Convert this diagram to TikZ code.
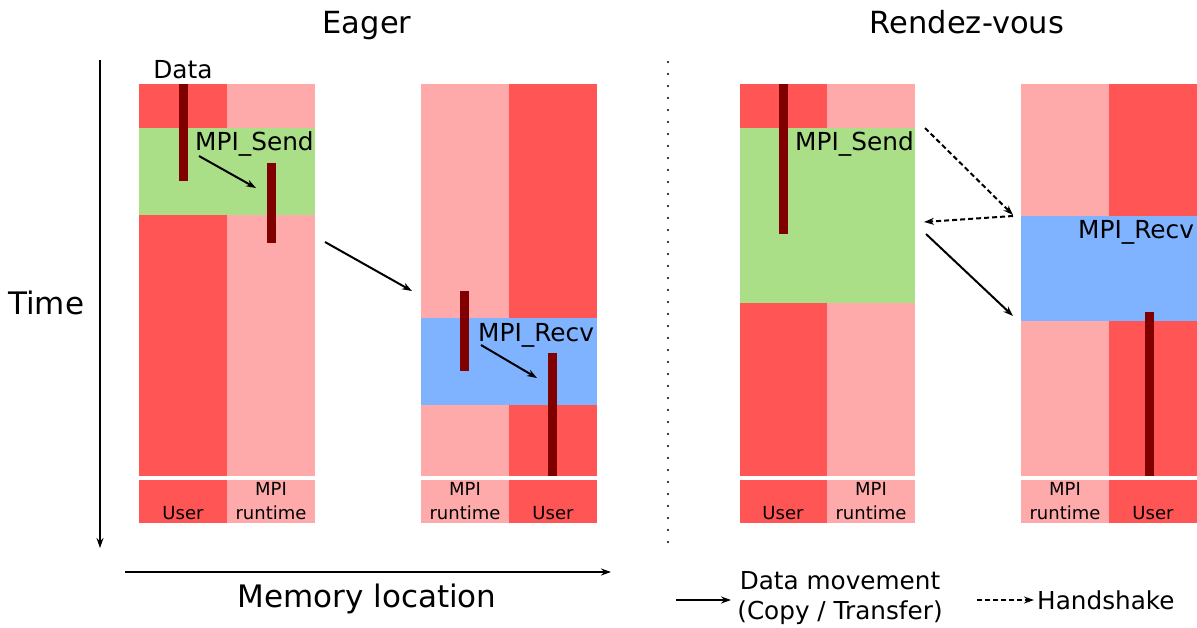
\documentclass[tikz,border=0pt]{standalone}
\usepackage{fontspec}
\setmainfont{DejaVu Sans}
\usetikzlibrary{arrows.meta}
\definecolor{ured}{HTML}{FF5555}
\definecolor{upink}{HTML}{FFAAAA}
\definecolor{ugreen}{HTML}{AADE87}
\definecolor{ublue}{HTML}{80B3FF}
\definecolor{ubar}{HTML}{800000}
\begin{document}
\begin{tikzpicture}[x=1pt,y=-1pt,
  move/.style={line width=2pt,-{Stealth[length=10pt,width=7pt]}},
  shake/.style={move,dash pattern=on 5pt off 3pt},
  axis/.style={line width=2pt,-{Stealth[length=10pt,width=7pt]}},
  txt/.style={inner sep=0pt,anchor=base},
  big/.style={txt,font=\fontsize{30.5}{36}\selectfont},
  axl/.style={txt,font=\fontsize{31}{37}\selectfont},
  mid/.style={txt,font=\fontsize{24.8}{29}\selectfont},
  leg/.style={txt,font=\fontsize{24.7}{29}\selectfont},
  small/.style={txt,font=\fontsize{18}{22}\selectfont},
  databar/.style={fill=ubar}]
\useasboundingbox (0,0) rectangle (1197,627);

% ---------- Eager sender ----------
\fill[ured] (139,84) rectangle (227,476);
\fill[upink] (227,84) rectangle (315,476);
\fill[ugreen] (139,128) rectangle (315,215);
\fill[ured] (139,480) rectangle (227,523);
\fill[upink] (227,480) rectangle (315,523);
\fill[databar] (179,84) rectangle (187.5,181);
\fill[databar] (267,163) rectangle (275.5,243);

% ---------- Eager receiver ----------
\fill[upink] (421,84) rectangle (509,476);
\fill[ured] (509,84) rectangle (597,476);
\fill[ublue] (421,318) rectangle (597,405);
\fill[upink] (421,480) rectangle (509,523);
\fill[ured] (509,480) rectangle (597,523);
\fill[databar] (460,291) rectangle (468.5,371);
\fill[databar] (548,353) rectangle (556.5,476);

% ---------- Rendez-vous sender ----------
\fill[ured] (740,84) rectangle (827,476);
\fill[upink] (827,84) rectangle (915,476);
\fill[ugreen] (740,128) rectangle (915,303);
\fill[ured] (740,480) rectangle (827,523);
\fill[upink] (827,480) rectangle (915,523);
\fill[databar] (779,84) rectangle (788,234);

% ---------- Rendez-vous receiver ----------
\fill[upink] (1021,84) rectangle (1109,476);
\fill[ured] (1109,84) rectangle (1197,476);
\fill[ublue] (1021,216) rectangle (1197,321);
\fill[upink] (1021,480) rectangle (1109,523);
\fill[ured] (1109,480) rectangle (1197,523);
\fill[databar] (1145,312) rectangle (1154,476);

% ---------- titles and labels ----------
\node[big] (teager) at (367,33) {Eager};
\node[big] (trdv) at (967,33) {Rendez-vous};
\node[axl,anchor=base west] (ttime) at (8,314) {Time};
\node[axl] (tmem) at (367,607) {Memory location};
\node[mid] (tdata) at (183,78) {Data};
\node[mid,anchor=base west] (tsend1) at (195,150) {MPI\_Send};
\node[mid,anchor=base west] (trecv1) at (478,341) {MPI\_Recv};
\node[mid,anchor=base west] (tsend2) at (795,150) {MPI\_Send};
\node[mid,anchor=base west] (trecv2) at (1078,238) {MPI\_Recv};

\node[small] (u1) at (183,519) {User};
\node[small] (m1a) at (271,495) {MPI};
\node[small] (m1b) at (271,519) {runtime};
\node[small] (m2a) at (465,495) {MPI};
\node[small] (m2b) at (465,519) {runtime};
\node[small] (u2) at (553,519) {User};
\node[small] (u3) at (783,519) {User};
\node[small] (m3a) at (871,495) {MPI};
\node[small] (m3b) at (871,519) {runtime};
\node[small] (m4a) at (1065,495) {MPI};
\node[small] (m4b) at (1065,519) {runtime};
\node[small] (u4) at (1153,519) {User};

% ---------- arrows ----------
\coordinate (e1a) at (199,156); \coordinate (e1b) at (256,188);
\coordinate (e2a) at (325,242); \coordinate (e2b) at (412,291);
\coordinate (e3a) at (481,345); \coordinate (e3b) at (537,378);
\draw[move] (e1a) -- (e1b);
\draw[move] (e2a) -- (e2b);
\draw[move] (e3a) -- (e3b);

\coordinate (r1a) at (925,128); \coordinate (r1b) at (1013,215);
\coordinate (r2a) at (1013,216); \coordinate (r2b) at (924,222);
\coordinate (r3a) at (926,234); \coordinate (r3b) at (1013,316);
\draw[shake] (r1a) -- (r1b);
\draw[shake] (r2a) -- (r2b);
\draw[move] (r3a) -- (r3b);

% ---------- axes ----------
\coordinate (ta) at (100,60); \coordinate (tb) at (100,548);
\coordinate (ma) at (125,572); \coordinate (mb) at (611,572);
\draw[axis] (ta) -- (tb);
\draw[axis] (ma) -- (mb);

% separator
\coordinate (sa) at (668,62); \coordinate (sb) at (668,548);
\draw[line width=2.2pt,line cap=round,dash pattern=on 0pt off 12pt] (sa) -- (sb);

% ---------- legend ----------
\coordinate (la) at (676,600); \coordinate (lb) at (731,600);
\draw[move] (la) -- (lb);
\node[leg] (ldm) at (840,589) {Data movement};
\node[leg] (lct) at (840,619) {(Copy / Transfer)};
\coordinate (lc) at (977,600); \coordinate (ld) at (1034,600);
\draw[shake] (lc) -- (ld);
\node[leg,anchor=base west] (lhs) at (1037,609) {Handshake};
\end{tikzpicture}
\end{document}
